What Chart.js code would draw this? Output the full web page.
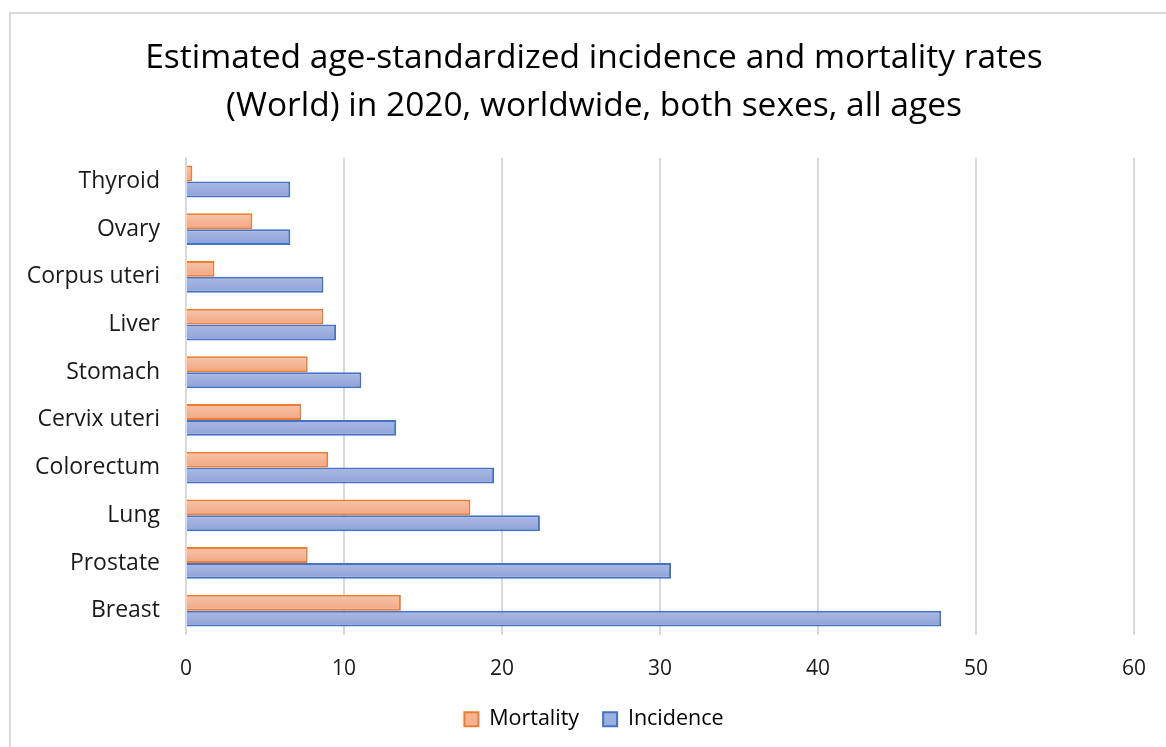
<!DOCTYPE html>
<html>
<head>
<meta charset="utf-8">
<script src="https://cdn.jsdelivr.net/npm/chart.js@4.4.1/dist/chart.umd.min.js"></script>
<style>
  html, body { margin: 0; padding: 0; background: #fff; overflow: hidden; width: 1166px; height: 747px; }
  #frame {
    position: absolute; left: 9px; top: 12px; width: 1170px; height: 745px;
    border-left: 2px solid #d9d9d9; border-top: 2px solid #d9d9d9; box-sizing: border-box;
  }
  #chart { position: absolute; left: 0; top: 13px; }
</style>
</head>
<body>
<div id="frame"></div>
<canvas id="chart" width="1188" height="734"></canvas>
<script>
// Cancer sites, listed top to bottom
const sites = ['Thyroid', 'Ovary', 'Corpus uteri', 'Liver', 'Stomach', 'Cervix uteri', 'Colorectum', 'Lung', 'Prostate', 'Breast'];
// Age-standardized rates per 100 000
const mortality = [0.4, 4.2, 1.8, 8.7, 7.7, 7.3, 9.0, 18.0, 7.7, 13.6];
const incidence = [6.6, 6.6, 8.7, 9.5, 11.1, 13.3, 19.5, 22.4, 30.7, 47.8];
const xTicks = [0, 10, 20, 30, 40, 50, 60];
const titleLines = ['Estimated age-standardized incidence and mortality rates', '(World) in 2020, worldwide, both sexes, all ages'];

const FONT = "'Open Sans', Lato, sans-serif";
const CAT_PCT = 0.667;

// Vertical gradient for each bar, following its slot inside the category band
function barGradient(light, dark, solid) {
  return (ctx) => {
    if (ctx.type !== 'data') return solid;
    const chart = ctx.chart;
    const y = chart.scales && chart.scales.y;
    if (!y || !y.height) return solid;
    const c = y.getPixelForValue(ctx.dataIndex);
    const half = (y.height / sites.length) * CAT_PCT / 2;
    const top = ctx.datasetIndex === 0 ? c - half : c;
    const g = chart.ctx.createLinearGradient(0, top, 0, top + half);
    g.addColorStop(0, light);
    g.addColorStop(1, dark);
    return g;
  };
}

// Let the long site names run into the left margin instead of being clipped
const wideCategoryLabels = {
  id: 'wideCategoryLabels',
  afterLayout(chart) {
    if (chart.scales.y) chart.scales.y.left = 0;
  }
};

new Chart(document.getElementById('chart'), {
  type: 'bar',
  data: {
    labels: sites,
    datasets: [
      {
        label: 'Mortality',
        data: mortality,
        backgroundColor: barGradient('#f8c4aa', '#f2a683', '#f5b392'),
        borderColor: '#ed7d31',
        borderWidth: 2,
        borderSkipped: 'start'
      },
      {
        label: 'Incidence',
        data: incidence,
        backgroundColor: barGradient('#abb9e4', '#8ea2d8', '#9dafdf'),
        borderColor: '#4472c4',
        borderWidth: 2,
        borderSkipped: 'start'
      }
    ]
  },
  plugins: [wideCategoryLabels],
  options: {
    indexAxis: 'y',
    responsive: false,
    animation: false,
    categoryPercentage: CAT_PCT,
    barPercentage: 1.0,
    layout: { padding: { left: 54, right: 54, top: 14, bottom: 7 } },
    scales: {
      x: {
        min: 0, max: 60,
        afterBuildTicks: (scale) => { scale.ticks = xTicks.map(v => ({ value: v })); },
        afterFit: (scale) => { scale.height = 50; },
        ticks: { font: { family: FONT, size: 21 }, color: '#1a1a1a', padding: 22 },
        grid: { color: '#d9d9d9', lineWidth: 2, drawTicks: false },
        border: { display: false }
      },
      y: {
        afterFit: (scale) => { scale.width = 132; },
        ticks: { font: { family: FONT, size: 23 }, color: '#1a1a1a', padding: 26 },
        grid: { display: false, drawTicks: false },
        border: { display: true, color: '#d9d9d9', width: 2 }
      }
    },
    plugins: {
      title: {
        display: true,
        text: titleLines,
        font: { family: FONT, size: 33.5, weight: 'normal', lineHeight: 1.42 },
        color: '#000',
        padding: { top: 8, bottom: 27.5 }
      },
      legend: {
        position: 'bottom',
        labels: {
          font: { family: FONT, size: 21.5 },
          color: '#000',
          boxWidth: 14,
          boxHeight: 14,
          padding: 24,
          generateLabels: (chart) => chart.data.datasets.map((ds, i) => ({
            text: ds.label,
            fillStyle: i === 0 ? '#f5b392' : '#9dafdf',
            strokeStyle: ds.borderColor,
            lineWidth: 2,
            datasetIndex: i,
            hidden: false
          }))
        }
      },
      tooltip: { enabled: false }
    }
  }
});
</script>
</body>
</html>
